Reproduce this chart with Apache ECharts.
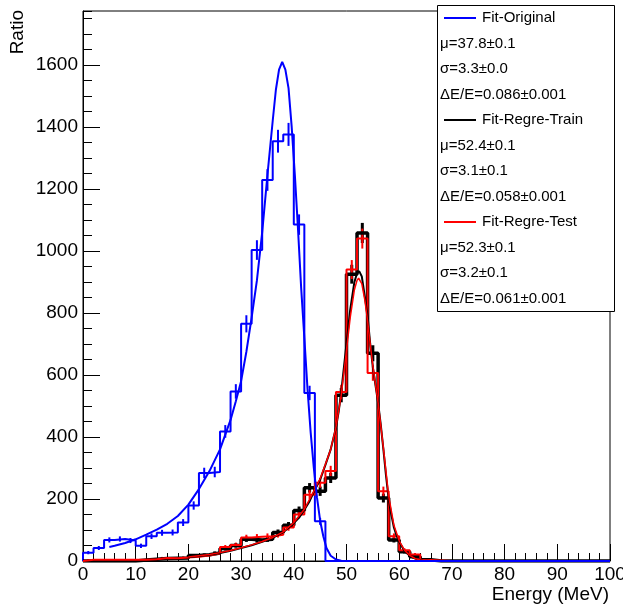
<!DOCTYPE html>
<html>
<head>
<meta charset="utf-8">
<title>Energy</title>
<script src="https://cdn.jsdelivr.net/npm/echarts@6.0.0/dist/echarts.min.js"></script>
<style>
  html, body { margin: 0; padding: 0; background: #fff; }
  #chart { width: 623px; height: 607px; }
</style>
</head>
<body>
<div id="chart"></div>
<script>
// histogram bins: low edge (MeV), all 2 MeV wide
const binWidth = 2;
const binLow = [0,2,4,6,8,10,12,14,16,18,20,22,24,26,28,30,32,34,36,38,40,42,44,46,48,
  50,52,54,56,58,60,62,64,66,68,70,72,74,76,78,80,82,84,86,88,90,92,94,96,98];

const origHist = [27,42,68,71,66,49,80,91,92,124,179,284,287,418,547,765,1003,1229,1354,1376,1085,542,128,0,0,
  0,0,0,0,0,0,0,0,0,0,0,0,0,0,0,0,0,0,0,0,0,0,0,0,0];
const trainHist = [0,0,0,0,0,3,6,8,9,10,18,20,26,40,50,70,68,70,92,115,163,236,225,268,535,
  925,1058,670,203,68,30,14,4,0,0,0,0,0,0,0,0,0,0,0,0,0,0,0,0,0];
const testHist = [4,4,4,4,4,4,6,10,9,11,14,18,24,45,52,76,78,80,85,108,150,214,252,290,545,
  940,1040,606,225,80,35,21,3,2,0,0,0,0,0,0,0,0,0,0,0,0,0,0,0,0];

// fit curves
const origFitE = [5,6,8,10,12,14,16,18,20,22,24,26,28,29,30,31,32,33,34,35,36,36.6,37.2,37.8,38.4,39,39.6,40.2,40.8,41.4,
  42,42.6,43.2,43.8,44.4,45,45.6,46.2,47,48,49,50,100];
const origFitV = [45,49,58,70,85,101,120,145,182,232,290,360,455,515,580,675,785,905,1060,1245,1420,1520,1585,1610,1585,1525,1400,1245,1070,880,
  720,555,415,300,205,130,80,42,17,5,1,0,0];
const trainFitE = [20,22,24,26,28,30,32,34,36,38,40,41,42,43,44,45,46,47,48,48.5,49,49.8,50.7,51.5,52,52.4,52.9,53.5,54,54.5,
  55,56,56.5,57,57.5,58,58.5,59,59.5,60,61,62,62.7,63.5,64.5,66];
const trainFitV = [12,16,20,26,33,42,51,62,75,93,122,140,165,193,230,262,310,360,430,480,545,670,810,900,928,935,918,850,790,700,
  625,510,440,360,275,200,150,108,82,62,32,17,10,5,2,0];
const testFitE = [20,22,24,26,28,30,32,34,36,38,40,42,44,45,46,47,48,49,49.8,50.7,51.5,52,52.3,52.9,53.5,54,54.5,55,56,57,
  58,59,60,61,62,63,64,66];
const testFitV = [13,17,21,27,34,43,52,63,76,94,124,167,232,266,312,360,432,535,650,785,875,905,912,895,840,775,700,630,510,365,
  210,115,65,35,18,8,3,0];

const legendText = ['Fit-Original', 'μ=37.8±0.1', 'σ=3.3±0.0', 'ΔE/E=0.086±0.001',
  'Fit-Regre-Train', 'μ=52.4±0.1', 'σ=3.1±0.1', 'ΔE/E=0.058±0.001',
  'Fit-Regre-Test', 'μ=52.3±0.1', 'σ=3.2±0.1', 'ΔE/E=0.061±0.001'];
const legendColor = ['#0000ff', null, null, null, '#000000', null, null, null, '#ff0000', null, null, null];

const FONT = 'Liberation Sans';

function histPoints(vals) {
  const pts = [[binLow[0], 0]];
  vals.forEach((v, i) => pts.push([binLow[i], v]));
  pts.push([binLow[binLow.length - 1] + binWidth, vals[vals.length - 1]]);
  return pts;
}
function errPoints(vals) {
  return vals.map((v, i) => [binLow[i] + binWidth / 2, v, Math.sqrt(v)]).filter(d => d[1] > 0);
}
function pairs(xs, ys) {
  return xs.map((x, i) => [x, ys[i]]);
}

function histSeries(vals, color, w) {
  return {
    type: 'line', step: 'end', data: histPoints(vals), showSymbol: false, symbol: 'none',
    lineStyle: { color: color, width: w }, itemStyle: { color: color }, silent: true
  };
}
function errSeries(vals, color, w) {
  return {
    type: 'custom', data: errPoints(vals), encode: { x: 0, y: 1 }, silent: true,
    renderItem: function (params, api) {
      const x = api.value(0), v = api.value(1), e = api.value(2);
      const a = api.coord([x, v - e]), b = api.coord([x, v + e]);
      return { type: 'line', shape: { x1: a[0], y1: a[1], x2: b[0], y2: b[1] }, style: { stroke: color, lineWidth: w } };
    }
  };
}
function fitSeries(xs, ys, color, w) {
  return {
    type: 'line', data: pairs(xs, ys), showSymbol: false, symbol: 'none', smooth: false,
    lineStyle: { color: color, width: w }, itemStyle: { color: color }, silent: true
  };
}

const graphics = [
  { type: 'text', x: 18, y: 10, rotation: Math.PI / 2, z: 50,
    style: { text: 'Ratio', fontSize: 19, fontFamily: FONT, fill: '#000', align: 'right', verticalAlign: 'middle' } },
  { type: 'text', x: 609, y: 595, z: 50,
    style: { text: 'Energy (MeV)', fontSize: 19, fontFamily: FONT, fill: '#000', align: 'right', verticalAlign: 'middle' } },
  { type: 'rect', shape: { x: 437.5, y: 5.5, width: 177, height: 306 }, z: 100,
    style: { fill: '#fff', stroke: '#000', lineWidth: 1 } }
];
legendText.forEach((t, i) => {
  const y = 18 + 25.5 * i;
  const c = legendColor[i];
  if (c) {
    graphics.push({ type: 'line', shape: { x1: 444, y1: y, x2: 476, y2: y }, z: 101,
      style: { stroke: c, lineWidth: 2 } });
  }
  graphics.push({ type: 'text', x: c ? 482 : 440, y: y, z: 101,
    style: { text: t, fontSize: 15, fontFamily: FONT, fill: '#000', align: 'left', verticalAlign: 'middle' } });
});

const tickLabel = { fontFamily: FONT, fontSize: 19, color: '#000', formatter: v => String(v) };
const blackLine = { color: '#000', width: 1 };

const option = {
  animation: false,
  backgroundColor: '#fff',
  grid: { left: 83, right: 13, top: 11, bottom: 46, show: true, borderColor: '#000', borderWidth: 1,
    containLabel: false, outerBoundsMode: 'none' },
  xAxis: [
    { type: 'value', min: 0, max: 100, interval: 10, position: 'bottom',
      axisLine: { onZero: false, lineStyle: blackLine },
      axisTick: { inside: true, length: 17, lineStyle: blackLine },
      axisLabel: Object.assign({ margin: 4 }, tickLabel),
      splitLine: { show: false } },
    { type: 'value', min: 0, max: 100, interval: 2, position: 'bottom',
      axisLine: { show: false, onZero: false },
      axisTick: { inside: true, length: 8, lineStyle: blackLine },
      axisLabel: { show: false }, splitLine: { show: false } }
  ],
  yAxis: [
    { type: 'value', min: 0, max: 1774, interval: 200, position: 'left',
      axisLine: { show: true, onZero: false, lineStyle: blackLine },
      axisTick: { show: true, inside: true, length: 17, lineStyle: blackLine },
      axisLabel: Object.assign({ margin: 5, showMaxLabel: false }, tickLabel),
      splitLine: { show: false } },
    { type: 'value', min: 0, max: 1774, interval: 50, position: 'left',
      axisLine: { show: false, onZero: false },
      axisTick: { show: true, inside: true, length: 9, lineStyle: blackLine },
      axisLabel: { show: false }, splitLine: { show: false } }
  ],
  series: [
    histSeries(origHist, '#0000ff', 2),
    errSeries(origHist, '#0000ff', 2),
    histSeries(trainHist, '#000000', 3.5),
    errSeries(trainHist, '#000000', 3),
    histSeries(testHist, '#ff0000', 2),
    errSeries(testHist, '#ff0000', 2),
    fitSeries(trainFitE, trainFitV, '#000000', 2),
    fitSeries(testFitE, testFitV, '#ff0000', 1.5),
    fitSeries(origFitE, origFitV, '#0000ff', 2)
  ],
  graphic: graphics
};

const chart = echarts.init(document.getElementById('chart'));
chart.setOption(option);
</script>
</body>
</html>
